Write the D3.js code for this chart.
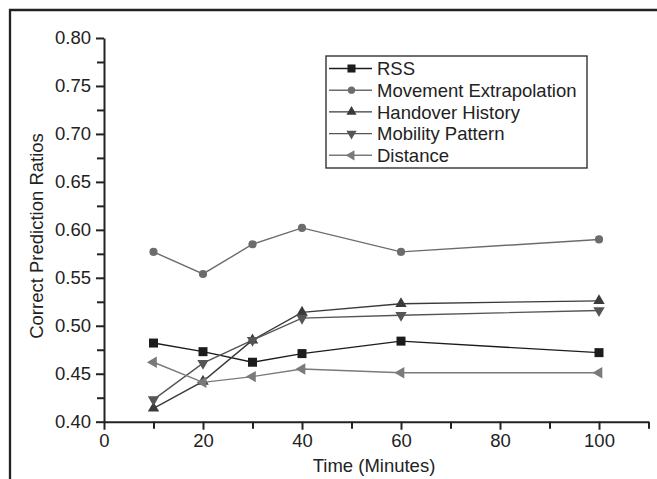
<!DOCTYPE html>
<html>
<head>
<meta charset="utf-8">
<script src="https://cdn.jsdelivr.net/npm/d3@7"></script>
<style>
	body { margin: 0; background: #fff; }
	text { font-family: Arial, 'Liberation Sans', sans-serif; fill: #222; }
	.axis path, .axis line { stroke: #222; stroke-width: 2px; }
	.axis text { font-size: 18.5px; }
</style>
</head>
<body>
<svg id="chart"></svg>
<script>
//Data.
const times = [10, 20, 30, 40, 60, 100];
const rss = [0.482, 0.473, 0.462, 0.471, 0.484, 0.472];
const movement = [0.577, 0.554, 0.585, 0.602, 0.577, 0.590];
const handover = [0.414, 0.442, 0.485, 0.514, 0.523, 0.526];
const mobility = [0.423, 0.461, 0.485, 0.508, 0.511, 0.516];
const distance = [0.462, 0.441, 0.447, 0.455, 0.451, 0.451];
const seriesNames = ['RSS', 'Movement Extrapolation', 'Handover History', 'Mobility Pattern', 'Distance'];
const xTicks = [0, 20, 40, 60, 80, 100];
const xMinor = [10, 30, 50, 70, 90, 110];
const yTicks = [0.40, 0.45, 0.50, 0.55, 0.60, 0.65, 0.70, 0.75, 0.80];
const yMinor = [0.425, 0.475, 0.525, 0.575, 0.625, 0.675, 0.725, 0.775];

const width = 657, height = 479;
const margin = {top: 38, left: 104, right: 8.5, bottom: 57.3};
const innerWidth = width - margin.left - margin.right;
const innerHeight = height - margin.top - margin.bottom;

//Marker style per series.
const styles = [
	{values: rss, symbol: d3.symbolSquare, size: 81, rotate: 0, color: '#1c1c1c'},
	{values: movement, symbol: d3.symbolCircle, size: 52, rotate: 0, color: '#6c6c6e'},
	{values: handover, symbol: d3.symbolTriangle, size: 56, rotate: 0, color: '#3a3a3a'},
	{values: mobility, symbol: d3.symbolTriangle, size: 56, rotate: 180, color: '#555555'},
	{values: distance, symbol: d3.symbolTriangle, size: 56, rotate: -90, color: '#7a7a7a'}
];

const svg = d3.select('#chart')
	.attr('width', width)
	.attr('height', height);

//Outer frame, cut off at right and bottom.
svg.append('path')
	.attr('d', `M10,${height} L10,10 L${width},10`)
	.style('fill', 'none')
	.style('stroke', '#222')
	.style('stroke-width', '2.3px');

const g = svg.append('g')
	.attr('transform', `translate(${margin.left}, ${margin.top})`);

const x = d3.scaleLinear().domain([0, 110]).range([0, innerWidth]);
const y = d3.scaleLinear().domain([0.4, 0.8]).range([innerHeight, 0]);

//Axes: major ticks with labels, minor ticks without.
g.append('g')
	.attr('class', 'axis')
	.attr('transform', `translate(0, ${innerHeight})`)
	.call(d3.axisBottom(x).tickValues(xTicks).tickSize(8).tickSizeOuter(0).tickPadding(4));
g.append('g')
	.attr('class', 'axis')
	.attr('transform', `translate(0, ${innerHeight})`)
	.call(d3.axisBottom(x).tickValues(xMinor).tickSize(7).tickFormat(''))
	.select('.domain').remove();
g.append('g')
	.attr('class', 'axis')
	.call(d3.axisLeft(y).tickValues(yTicks).tickSize(8).tickSizeOuter(0).tickPadding(5)
		.tickFormat(d3.format('.2f')));
g.append('g')
	.attr('class', 'axis')
	.call(d3.axisLeft(y).tickValues(yMinor).tickSize(7).tickFormat(''))
	.select('.domain').remove();
g.selectAll('.axis text').style('fill', '#222');

//Axis titles.
svg.append('text')
	.text('Time (Minutes)')
	.attr('x', 374)
	.attr('y', 472)
	.attr('text-anchor', 'middle')
	.style('font-size', '18.5px');
svg.append('text')
	.text('Correct Prediction Ratios')
	.attr('transform', 'translate(43, 236) rotate(-90)')
	.attr('text-anchor', 'middle')
	.style('font-size', '18.5px');

//Lines and markers.
const line = d3.line()
	.x((d, i) => x(times[i]))
	.y(d => y(d));
styles.forEach(s => {
	g.append('path')
		.datum(s.values)
		.attr('d', line)
		.style('fill', 'none')
		.style('stroke', s.color)
		.style('stroke-width', '1.4px');
	g.selectAll(null)
		.data(s.values)
		.join('path')
		.attr('d', d3.symbol(s.symbol, s.size))
		.attr('transform', (d, i) => `translate(${x(times[i])}, ${y(d)}) rotate(${s.rotate})`)
		.style('fill', s.color);
});

//Legend.
const legend = svg.append('g')
	.attr('transform', 'translate(326, 56)');
legend.append('rect')
	.attr('width', 261)
	.attr('height', 112)
	.style('fill', '#fff')
	.style('stroke', '#333')
	.style('stroke-width', '1.4px');
styles.forEach((s, i) => {
	const row = legend.append('g')
		.attr('transform', `translate(0, ${12.5 + i * 21.7})`);
	row.append('line')
		.attr('x1', 3)
		.attr('x2', 46)
		.style('stroke', s.color)
		.style('stroke-width', '1.4px');
	row.append('path')
		.attr('d', d3.symbol(s.symbol, s.size * 0.8))
		.attr('transform', `translate(25.5, 0) rotate(${s.rotate})`)
		.style('fill', s.color);
	row.append('text')
		.text(seriesNames[i])
		.attr('x', 51)
		.attr('y', 6.6)
		.style('font-size', '18.5px');
});
</script>
</body>
</html>
